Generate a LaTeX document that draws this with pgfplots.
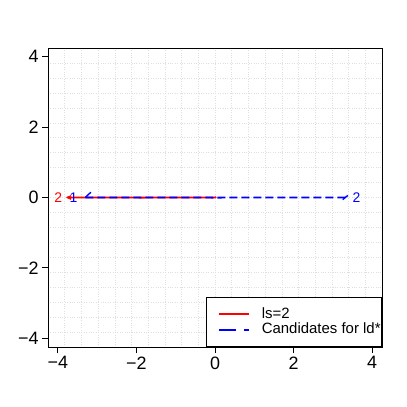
\documentclass[border=0pt]{standalone}
\usepackage{fontspec}
\setmainfont{Liberation Sans}
\usepackage{pgfplots}
\pgfplotsset{compat=1.18}

\begin{document}
\begin{tikzpicture}
\begin{axis}[
  at={(0,0)}, anchor=south west,
  scale only axis, width=334bp, height=299bp,
  xmin=-4.25, xmax=4.25, ymin=-4.25, ymax=4.25,
  xtick={-4,-2,0,2,4}, ytick={-4,-2,0,2,4},
  xticklabels={−4,−2,0,2,4}, yticklabels={−4,−2,0,2,4},
  minor xtick={-3.825,-3.4,-2.975,-2.55,-2.125,-1.7,-1.275,-0.85,-0.425,0,0.425,0.85,1.275,1.7,2.125,2.55,2.975,3.4,3.825},
  minor ytick={-3.825,-3.4,-2.975,-2.55,-2.125,-1.7,-1.275,-0.85,-0.425,0,0.425,0.85,1.275,1.7,2.125,2.55,2.975,3.4,3.825},
  grid=minor, minor grid style={gray!25, dotted, line width=0.5bp},
  minor tick length=0pt, major tick length=6bp,
  tick align=outside, xtick pos=left, ytick pos=left,
  ticklabel style={font=\fontsize{18}{20}\selectfont},
  axis line style={line width=0.75bp},
  major tick style={black, line width=0.75bp},
  legend style={at={(1,0)}, anchor=south east, draw=black, line width=0.75bp,
    font=\fontsize{15}{16}\selectfont, inner xsep=1bp, inner ysep=9bp,
    column sep=12bp, row sep=0pt,
    nodes={inner xsep=0bp, inner ysep=0.8bp, text height=11bp, text depth=3bp}},
  legend cell align=left,
  legend image code/.code={\path (0bp,0bp); \draw[#1] (11bp,0bp) -- (41bp,0bp);},
]
% ls=2
\addplot[red, line width=1.8bp, line cap=round, forget plot] coordinates {(-3.75,0.003) (-1.86,-0.003) (0.02,0.003)};
% candidates for ld*
\addplot[blue, line width=1.8bp, dash pattern=on 8bp off 4bp, forget plot] coordinates {(-3.3,0.003) (0.04,-0.003) (3.38,0.003)};
% arrow heads
\addplot[red, line width=1.4bp, forget plot] coordinates {(-3.66,0.05) (-3.75,0) (-3.66,-0.05)};
\addplot[blue, line width=1.4bp, forget plot] coordinates {(-3.3,0) (-3.16,0.15)};
\addplot[blue, line width=1.4bp, forget plot] coordinates {(3.38,0.06) (3.25,-0.06)};
% labels
\addplot[draw=none, mark=none, nodes near coords, point meta=explicit symbolic,
  nodes near coords style={anchor=center, font=\fontsize{14}{14}\selectfont, text=red}, forget plot]
  coordinates {(-3.99,0) [2]};
\addplot[draw=none, mark=none, nodes near coords, point meta=explicit symbolic,
  nodes near coords style={anchor=center, font=\fontsize{14}{14}\selectfont, text=blue}, forget plot]
  coordinates {(-3.6,0) [1] (3.6,0) [2]};
\addlegendimage{red, line width=1.8bp}
\addlegendentry{ls=2}
\addlegendimage{blue, line width=1.8bp, dash pattern=on 17bp off 8bp}
\addlegendentry{Candidates for ld*}
\end{axis}
\path (-48bp,-60bp) rectangle (359bp,347bp);
\end{tikzpicture}
\end{document}
